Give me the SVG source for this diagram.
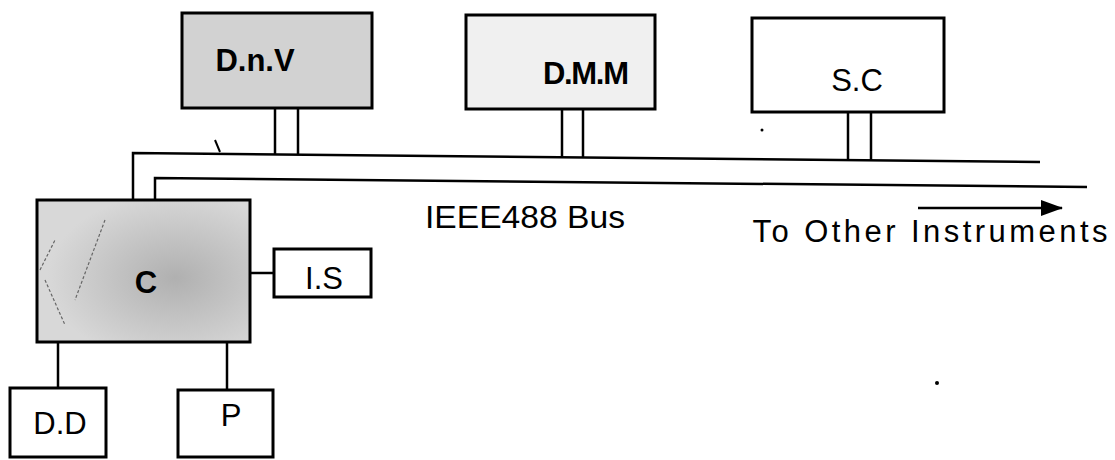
<svg xmlns="http://www.w3.org/2000/svg" width="1115" height="460" viewBox="0 0 1115 460">
<style>
.box{stroke:#000;stroke-width:3;}
.ln{stroke:#000;stroke-width:2.5;fill:none;}
.lbl{font-family:"Liberation Sans",Arial,sans-serif;font-size:31px;fill:#000;text-anchor:middle;}
.b{font-weight:bold;}
</style>
<defs>
<marker id="ah" markerWidth="22" markerHeight="16" refX="21" refY="8" orient="auto" markerUnits="userSpaceOnUse">
<path d="M0,0 L22,8 L0,16 Z" fill="#000"/>
</marker>
<radialGradient id="cg" cx="0.65" cy="0.55" r="0.6">
<stop offset="0" stop-color="#b0b0b0"/>
<stop offset="1" stop-color="#d8d8d8"/>
</radialGradient>
</defs>
<rect width="1115" height="460" fill="#fff"/>
<g id="connectors">
<path class="ln" d="M133,200 L133,153 L1040,162"/>
<path class="ln" d="M155,200 L155,178 L1087,187"/>
<line class="ln" x1="275" y1="108" x2="275" y2="154"/>
<line class="ln" x1="298" y1="108" x2="298" y2="154"/>
<line class="ln" x1="562" y1="109" x2="562" y2="157"/>
<line class="ln" x1="583" y1="109" x2="583" y2="157"/>
<line class="ln" x1="848" y1="112" x2="848" y2="161"/>
<line class="ln" x1="871" y1="112" x2="871" y2="161"/>
<line class="ln" x1="250" y1="273" x2="274" y2="273"/>
<line class="ln" x1="58" y1="342" x2="58" y2="388"/>
<line class="ln" x1="227" y1="342" x2="227" y2="390"/>
<line x1="918" y1="208" x2="1062" y2="208" stroke="#000" stroke-width="2.5" marker-end="url(#ah)"/>
<path d="M215,140 L220,152" stroke="#000" stroke-width="2" fill="none"/>
</g>
<g id="node-dnv">
<rect class="box" x="182" y="13" width="190" height="95" fill="#d2d2d2"/>
<text class="lbl b" x="255" y="71">D.n.V</text>
</g>
<g id="node-dmm">
<rect class="box" x="466" y="15" width="189" height="94" fill="#f0f0f0"/>
<text class="lbl" x="586" y="84" font-weight="bold" textLength="86">D.M.M</text>
</g>
<g id="node-sc">
<rect class="box" x="752" y="18" width="192" height="94" fill="#fff"/>
<text class="lbl" x="857" y="91">S.C</text>
</g>
<g id="node-c">
<rect class="box" x="37" y="200" width="213" height="142" fill="url(#cg)"/>
<path d="M45,280 L65,325 M40,270 L55,240 M105,220 L75,300" stroke="#666" stroke-width="1.2" fill="none" stroke-dasharray="3,2"/>
<text class="lbl b" x="146" y="293" font-size="32">C</text>
</g>
<g id="node-is">
<rect class="box" x="274" y="249" width="97" height="48" fill="#fff"/>
<text class="lbl" x="324" y="289">I.S</text>
</g>
<g id="node-dd">
<rect class="box" x="10" y="388" width="96" height="69" fill="#fff"/>
<text class="lbl" x="60" y="434">D.D</text>
</g>
<g id="node-p">
<rect class="box" x="178" y="390" width="95" height="67" fill="#fff"/>
<text class="lbl" x="231" y="426">P</text>
</g>
<text class="lbl" x="525" y="228" textLength="200" lengthAdjust="spacingAndGlyphs">IEEE488 Bus</text>
<text class="lbl" x="930" y="242" textLength="355" lengthAdjust="spacing">To Other Instruments</text>
<circle cx="762" cy="130" r="1.5" fill="#000"/>
<circle cx="937" cy="383" r="2" fill="#000"/>
</svg>
